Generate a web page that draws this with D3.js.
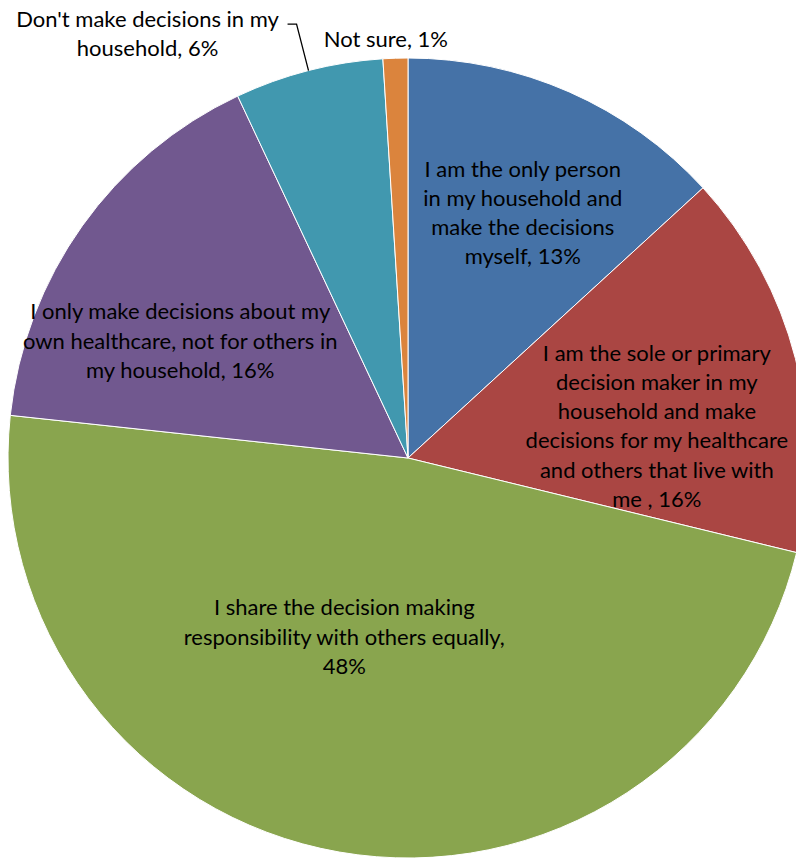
<!DOCTYPE html>
<html>
<head>
<meta charset="utf-8">
<script src="https://cdn.jsdelivr.net/npm/d3@7"></script>
<style>
  body { margin: 0; background: #fff; }
  svg text { font-family: Lato, "Open Sans", sans-serif; font-size: 22px; fill: #000; }
</style>
</head>
<body>
<div id="vis"></div>
<script>
const width = 796
const height = 859
const cx = 408
const cy = 458
const radius = 400

// slices, clockwise from 12 o'clock
const categories = [
    "I am the only person in my household and make the decisions myself",
    "I am the sole or primary decision maker in my household and make decisions for my healthcare and others that live with me ",
    "I share the decision making responsibility with others equally",
    "I only make decisions about my own healthcare, not for others in my household",
    "Don't make decisions in my household",
    "Not sure"
]
const values = [13.2, 15.6, 47.9, 16.3, 6.0, 1.0]
const pctLabels = ["13%", "16%", "48%", "16%", "6%", "1%"]
const colours = ["#4572A7", "#AA4643", "#89A54E", "#71588F", "#4198AF", "#DB843D"]

// label text as wrapped in the chart
const labelLines = [
    ["I am the only person", "in my household and", "make the decisions", "myself, 13%"],
    ["I am the sole or primary", "decision maker in my", "household and make", "decisions for my healthcare", "and others that live with", "me , 16%"],
    ["I share the decision making", "responsibility with others equally,", "48%"],
    ["I only make decisions about my", "own healthcare, not for others in", "my household, 16%"],
    ["Don't make decisions in my", "household, 6%"],
    ["Not sure, 1%"]
]

const svg = d3.select("#vis")
    .append("svg")
    .attr("width", width)
    .attr("height", height)

const container = svg.append("g")
    .attr("transform", `translate(${cx}, ${cy})`)

const pie = d3.pie().sort(null).value(d => d)
const arcs = pie(values)

const arc = d3.arc().innerRadius(0).outerRadius(radius)
const innerLabelArc = d3.arc().innerRadius(radius * 0.65).outerRadius(radius * 0.65)
const outerLabelArc = d3.arc().innerRadius(radius + 20).outerRadius(radius + 20)

container.selectAll("path.slice")
    .data(arcs)
    .join("path")
        .attr("class", "slice")
        .attr("d", arc)
        .attr("fill", (d, i) => colours[i])
        .attr("stroke", "#fff")
        .attr("stroke-width", 1)

// nudges from Excel's best-fit placement
const inside = [true, true, true, true, false, false]
const nudges = [[10, -8], [-3, 32], [-19, -78], [-16, 33], [-156, -18], [-9, 0]]
const lineHeight = 29.3

const labelPos = arcs.map((d, i) => {
    const c = inside[i] ? innerLabelArc.centroid(d) : outerLabelArc.centroid(d)
    return [c[0] + nudges[i][0], c[1] + nudges[i][1]]
})

// leader line for the small teal slice
const teal = arcs[4]
const tealMid = (teal.startAngle + teal.endAngle) / 2
const edge = [Math.sin(tealMid) * radius, -Math.cos(tealMid) * radius]
const elbow = [labelPos[4][0] + 149, labelPos[4][1] - 9]
container.append("polyline")
    .attr("points", [edge, elbow, [elbow[0] - 9, elbow[1]]].map(p => p.join(",")).join(" "))
    .attr("fill", "none")
    .attr("stroke", "#000")
    .attr("stroke-width", 1.3)

const labels = container.selectAll("text.label")
    .data(arcs)
    .join("text")
        .attr("class", "label")
        .attr("text-anchor", "middle")
        .attr("transform", (d, i) => `translate(${labelPos[i][0]}, ${labelPos[i][1]})`)

labels.selectAll("tspan")
    .data((d, i) => labelLines[i].map((t, j) => ({t, j, n: labelLines[i].length})))
    .join("tspan")
        .attr("x", 0)
        .attr("y", d => (d.j - (d.n - 1) / 2) * lineHeight)
        .attr("dominant-baseline", "central")
        .text(d => d.t)
</script>
</body>
</html>
